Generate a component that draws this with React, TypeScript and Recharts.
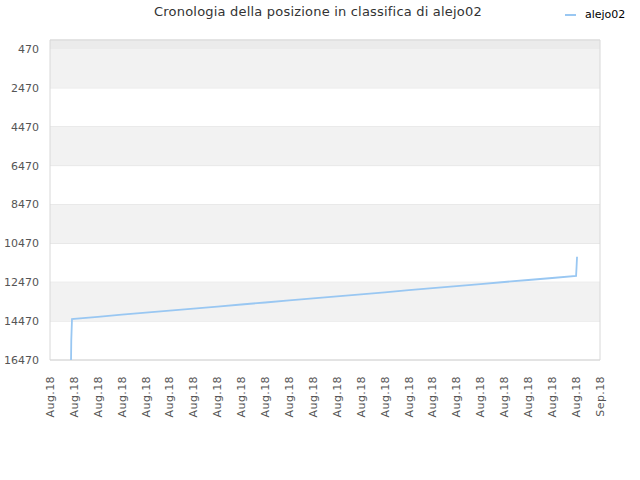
import React from "react";
import { LineChart, Line, XAxis, YAxis, CartesianGrid, ReferenceArea } from "recharts";

// x = days since start of the axis (0 .. 23), y = ranking position
const days = [0.88, 0.89, 0.92, 1, 2, 3, 4, 5, 6, 7, 8, 9, 10, 11, 12, 13, 14, 15, 16, 17, 18, 19, 20, 21, 22, 22.02, 22.04];
const ranks = [16470, 15440, 14360, 14350, 14247, 14140, 14037, 13934, 13826, 13723, 13615, 13512, 13404, 13301, 13193, 13090, 12987, 12879, 12776, 12668, 12565, 12457, 12354, 12251, 12148, 11670, 11155];

const tickDays = [0, 1, 2, 3, 4, 5, 6, 7, 8, 9, 10, 11, 12, 13, 14, 15, 16, 17, 18, 19, 20, 21, 22, 23];
const tickLabels = ["Aug.18", "Aug.18", "Aug.18", "Aug.18", "Aug.18", "Aug.18", "Aug.18", "Aug.18", "Aug.18", "Aug.18", "Aug.18", "Aug.18", "Aug.18", "Aug.18", "Aug.18", "Aug.18", "Aug.18", "Aug.18", "Aug.18", "Aug.18", "Aug.18", "Aug.18", "Aug.18", "Sep.18"];
const yTicks = [470, 2470, 4470, 6470, 8470, 10470, 12470, 14470, 16470];
const yMin = 7;
const yMax = 16470;
const grayBands = [[470, 2470], [4470, 6470], [8470, 10470], [12470, 14470]];

const seriesName = "alejo02";
const title = "Cronologia della posizione in classifica di alejo02";

const data = days.map((d, i) => ({ day: d, rank: ranks[i] }));

const font = "'DejaVu Sans', Verdana, sans-serif";

const XTick = (props: any) => {
  const { x, y, payload } = props;
  const idx = tickDays.indexOf(payload.value);
  return (
    <g transform={`translate(${x},${y})`}>
      <text transform="rotate(-90)" x={-8} y={0} dy="0.35em" textAnchor="end" fontSize={11} letterSpacing={0.4} fill="#555" fontFamily={font}>
        {tickLabels[idx]}
      </text>
    </g>
  );
};

const App = () => {
  return (
    <div style={{ position: "absolute", left: 0, top: 0, width: 640, height: 480, background: "#fff", fontFamily: font }}>
      <div style={{ position: "absolute", left: 0, top: 4, width: 636, textAlign: "center", fontSize: 13, letterSpacing: 0.2, color: "#333" }}>
        {title}
      </div>
      <div style={{ position: "absolute", left: 565, top: 8, display: "flex", alignItems: "center", fontSize: 11, color: "#000" }}>
        <span style={{ display: "inline-block", width: 11, height: 2, background: "#99c7f2", marginRight: 9 }} />
        {seriesName}
      </div>
      <LineChart width={640} height={480} data={data} margin={{ top: 40, right: 40, left: 0, bottom: 0 }}>
        <ReferenceArea x1={0} x2={23} y1={yMin} y2={470} fill="#ebebeb" fillOpacity={1} stroke="none" ifOverflow="visible" />
        {grayBands.map((b, i) => (
          <ReferenceArea key={i} x1={0} x2={23} y1={b[0]} y2={b[1]} fill="#f2f2f2" fillOpacity={1} stroke="none" ifOverflow="visible" />
        ))}
        <CartesianGrid vertical={false} stroke="#e0e0e0" />
        <ReferenceArea x1={0} x2={23} y1={yMin} y2={yMax} fill="none" stroke="#d8d8d8" ifOverflow="visible" />
        <XAxis
          dataKey="day"
          type="number"
          domain={[0, 23]}
          ticks={tickDays}
          interval={0}
          tick={<XTick />}
          axisLine={false}
          tickLine={false}
          height={120}
        />
        <YAxis
          dataKey="rank"
          type="number"
          domain={[yMin, yMax]}
          reversed
          ticks={yTicks}
          interval={0}
          width={50}
          axisLine={false}
          tickLine={false}
          tickSize={0}
          tickMargin={11}
          tick={{ fontSize: 11, fill: "#555", fontFamily: font }}
        />
        <Line
          type="linear"
          dataKey="rank"
          name={seriesName}
          stroke="#99c7f2"
          strokeWidth={1.8}
          dot={false}
          isAnimationActive={false}
        />
      </LineChart>
    </div>
  );
};

export default App;
